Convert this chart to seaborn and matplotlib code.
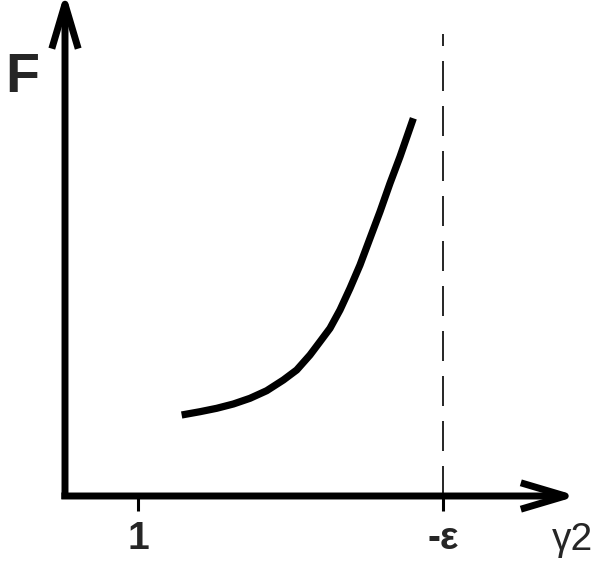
import numpy as np
import pandas as pd
import matplotlib
matplotlib.use("Agg")
import matplotlib.pyplot as plt
import seaborn as sns

# ---- data ----
gamma2 = [1.598, 1.849, 2.078, 2.306, 2.534, 2.763, 2.991, 3.174, 3.356, 3.493,
          3.630, 3.767, 3.904, 4.041, 4.178, 4.315, 4.452, 4.589, 4.772]
F_vals = [0.810, 0.843, 0.877, 0.920, 0.977, 1.053, 1.160, 1.260, 1.410, 1.543,
          1.677, 1.860, 2.077, 2.310, 2.577, 2.843, 3.127, 3.393, 3.777]
tick_pos = [1.0, 5.178]
tick_labels = ["1", "-ε"]
eps_pos = 5.178
eps_top = 4.62
x_max = 7.1
y_max = 4.96
x_tip = 7.02
y_tip = 5.04

sns.set_style("white")
plt.rcParams["font.family"] = ["Liberation Sans", "DejaVu Sans"]

fig = plt.figure(figsize=(5.95, 5.63), dpi=100)
W, H = 595, 563
x_px = 73.0  # pixels per x unit
ax = fig.add_axes([65 / W, (H - 496) / H, x_max * x_px / W, 496 / H])
ax.set_xlim(0, x_max)
ax.set_ylim(0, y_max)
for s in ax.spines.values():
    s.set_visible(False)
ax.patch.set_alpha(0)

df = pd.DataFrame({"gamma2": gamma2, "F": F_vals})
sns.lineplot(data=df, x="gamma2", y="F", color="black", linewidth=5.2,
             ax=ax, sort=False, solid_capstyle="butt")

# dashed vertical line at -epsilon
ax.vlines(eps_pos, 0, eps_top, colors="black", linewidth=1.2,
          linestyles=(0, (18, 9)))

# axes with arrows
arrow_kw = dict(arrowstyle="->,head_length=3.2,head_width=0.95",
                color="black", lw=5, mutation_scale=10,
                shrinkA=0, shrinkB=0, capstyle="butt")
ax.annotate("", xy=(x_tip, 0), xytext=(-0.05, 0), arrowprops=arrow_kw,
            annotation_clip=False)
ax.annotate("", xy=(0, y_tip), xytext=(0, -0.03), arrowprops=arrow_kw,
            annotation_clip=False)

ax.set_xticks(tick_pos)
ax.set_xticklabels(tick_labels, fontsize=28, fontweight="bold")
ax.set_yticks([])
ax.tick_params(axis="x", direction="out", length=11, width=2.2,
               color="black", pad=7, bottom=True)
ax.set_xlabel("")
ax.set_ylabel("")

fig.text(572 / W, 1 - 540 / H, "γ2", fontsize=28, fontweight="normal",
         ha="center", va="center")
fig.text(22 / W, 1 - 78 / H, "F", fontsize=40, fontweight="bold",
         ha="center", va="center")

fig.savefig("out.png", dpi=100)
